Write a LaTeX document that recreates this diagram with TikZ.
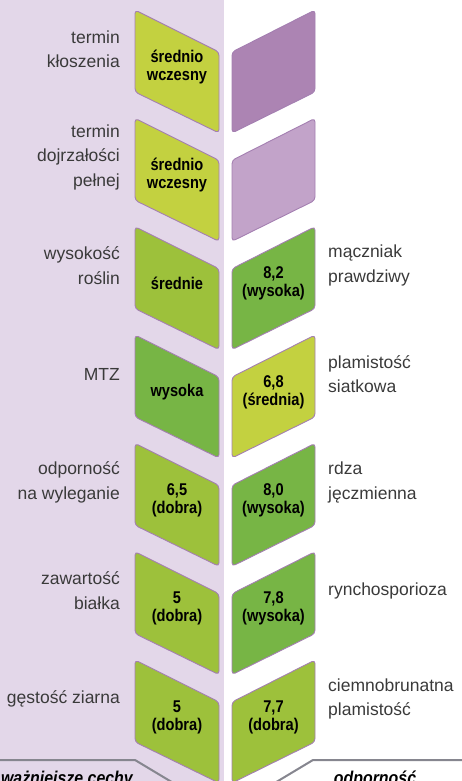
\documentclass[tikz,border=0pt]{standalone}
\usepackage{fontspec}
\setmainfont{Liberation Sans}
\newfontfamily\valfont[FakeStretch=0.86]{Liberation Sans}
\usepackage{xcolor}
\usepackage{tikz}
\usetikzlibrary{calc}
\definecolor{panel}{HTML}{E3D7E9}
\definecolor{leafedge}{HTML}{A47FB1}
\definecolor{labgray}{HTML}{3A3A3A}
\definecolor{footgray}{HTML}{86868F}
\newcommand{\RowTop}{10}
\newcommand{\RowStep}{108.33}
\tikzset{
  leaf/.style={draw=leafedge, line width=0.9pt, rounded corners=3.5pt},
  lime/.style={fill={rgb,255:red,195;green,209;blue,64}},    % sredni
  grass/.style={fill={rgb,255:red,157;green,193;blue,59}},   % dobra
  moss/.style={fill={rgb,255:red,119;green,181;blue,69}},    % wysoka
  plum/.style={fill={rgb,255:red,172;green,132;blue,179}},
  lilac/.style={fill={rgb,255:red,194;green,163;blue,201}},
  value/.style={align=center, inner sep=0pt, text=black,
    font=\valfont\bfseries\fontsize{17}{18}\selectfont},
  traitL/.style={anchor=east, align=right, inner sep=0pt, text=labgray,
    font=\fontsize{17.5}{24.5}\selectfont},
  traitR/.style={anchor=west, align=left, inner sep=0pt, text=labgray,
    font=\fontsize{17.5}{24.5}\selectfont},
  footline/.style={draw=footgray, line width=2pt},
  foottext/.style={inner sep=0pt, text=black,
    font=\valfont\bfseries\itshape\fontsize{18.5}{20}\selectfont}
}
% #1 row, #2 fill style, #3 node name, #4 value text
\newcommand{\LeftLeaf}[4]{%
  \pgfmathsetmacro{\ytop}{\RowTop+(#1-1)*\RowStep}%
  \draw[leaf,#2] (135,\ytop) -- ++(84,42) -- ++(0,81) -- ++(-84,-41) -- cycle;
  \node[value] (#3) at (177,{\ytop+57}) {#4};
}
\newcommand{\RightLeaf}[4]{%
  \pgfmathsetmacro{\ytop}{\RowTop+(#1-1)*\RowStep}%
  \draw[leaf,#2] (315,\ytop) -- ++(0,82) -- ++(-83,41) -- ++(0,-81) -- cycle;
  \node[value] (#3) at (273.5,{\ytop+57}) {#4};
}
\newcommand{\TraitRow}[3]{%
  \pgfmathsetmacro{\ytop}{\RowTop+(#1-1)*\RowStep}%
  \node[traitL] (tl#1) at (120,{\ytop+39}) {#2};
  \node[traitR] (tr#1) at (328,{\ytop+39}) {#3};
}

\begin{document}
\begin{tikzpicture}[x=1pt, y=-1pt]
  \useasboundingbox (0,0) rectangle (462,781);
  \clip (0,0) rectangle (462,781);
  % left panel
  \fill[panel] (0,0) rectangle (224,781);
  % leaves
  \LeftLeaf{1}{lime}{lv1}{średnio\\wczesny}
  \RightLeaf{1}{plum}{rv1}{}
  \LeftLeaf{2}{lime}{lv2}{średnio\\wczesny}
  \RightLeaf{2}{lilac}{rv2}{}
  \LeftLeaf{3}{grass}{lv3}{średnie}
  \RightLeaf{3}{moss}{rv3}{8,2\\(wysoka)}
  \LeftLeaf{4}{moss}{lv4}{wysoka}
  \RightLeaf{4}{lime}{rv4}{6,8\\(średnia)}
  \LeftLeaf{5}{grass}{lv5}{6,5\\(dobra)}
  \RightLeaf{5}{moss}{rv5}{8,0\\(wysoka)}
  \LeftLeaf{6}{grass}{lv6}{5\\(dobra)}
  \RightLeaf{6}{moss}{rv6}{7,8\\(wysoka)}
  \LeftLeaf{7}{grass}{lv7}{5\\(dobra)}
  \RightLeaf{7}{grass}{rv7}{7,7\\(dobra)}
  % trait names
  \TraitRow{1}{termin\\kłoszenia}{}
  \TraitRow{2}{termin\\dojrzałości\\pełnej}{}
  \TraitRow{3}{wysokość\\roślin}{mączniak\\prawdziwy}
  \TraitRow{4}{MTZ}{plamistość\\siatkowa}
  \TraitRow{5}{odporność\\na wyleganie}{rdza\\jęczmienna}
  \TraitRow{6}{zawartość\\białka}{rynchosporioza}
  \TraitRow{7}{gęstość ziarna}{ciemnobrunatna\\plamistość}
  % footer
  \coordinate (fl) at (0,760);
  \coordinate (fr) at (462,760);
  \draw[footline] (fl) -- ++(135,0) -- ++(45,27);
  \draw[footline] (fr) -- ++(-149,0) -- ++(-45,27);
  \node[foottext, anchor=base east] (cechy) at (133,784) {ważniejsze cechy};
  \node[foottext, anchor=base] (odp) at (375,784) {odporność};
\end{tikzpicture}
\end{document}
